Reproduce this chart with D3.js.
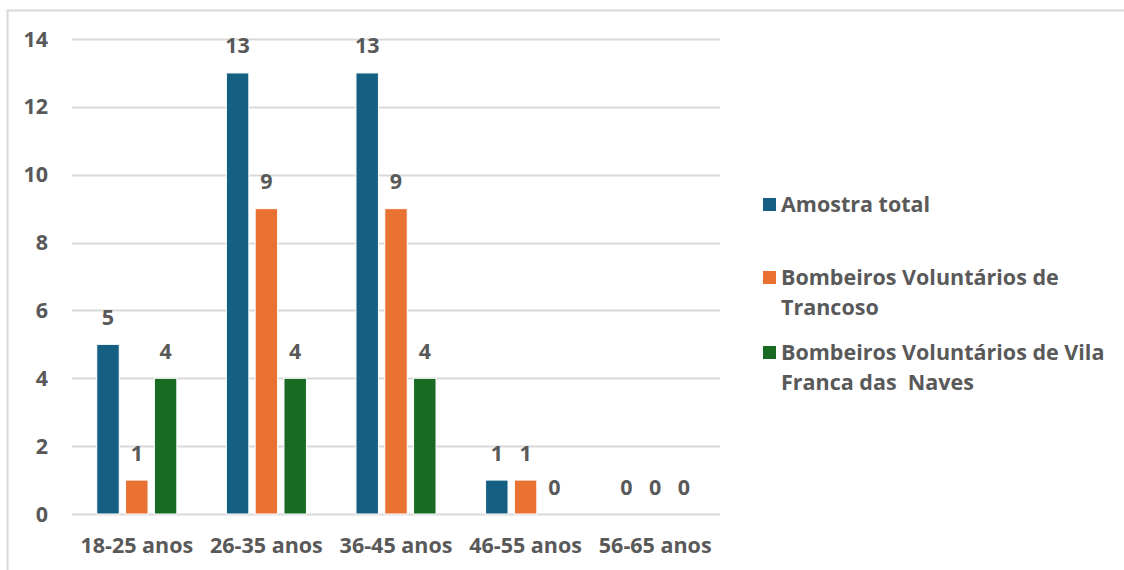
<!DOCTYPE html>
<html>
<head>
<meta charset="utf-8">
<script src="https://cdn.jsdelivr.net/npm/d3@7"></script>
<style>
  html, body { margin: 0; padding: 0; background: #fff; }
  svg { display: block; }
  text { font-family: "Open Sans", "Liberation Sans", Arial, sans-serif; font-weight: 700; fill: #595959; }
</style>
</head>
<body>
<svg id="chart" width="1124" height="570"></svg>
<script>
// Age groups and counts per sample
const categories = ["18-25 anos", "26-35 anos", "36-45 anos", "46-55 anos", "56-65 anos"];
const seriesNames = ["Amostra total", "Bombeiros Voluntários de Trancoso", "Bombeiros Voluntários de Vila Franca das  Naves"];
const legendLines = [["Amostra total"], ["Bombeiros Voluntários de", "Trancoso"], ["Bombeiros Voluntários de Vila", "Franca das  Naves"]];
const amostraTotal = [5, 13, 13, 1, 0];
const trancoso = [1, 9, 9, 1, 0];
const vilaFranca = [4, 4, 4, 0, 0];
const yTicks = [0, 2, 4, 6, 8, 10, 12, 14];
const colors = ["#156082", "#E97132", "#196B24"];

const series = [amostraTotal, trancoso, vilaFranca];
const svg = d3.select("#chart");
const fontSize = 21.5;

// outer chart frame
svg.append("rect")
  .attr("x", 7.5).attr("y", 10.5).attr("width", 1140).attr("height", 600)
  .attr("fill", "none").attr("stroke", "#d9d9d9").attr("stroke-width", 2);

const plot = { left: 72, right: 720, top: 39, bottom: 514 };

const x = d3.scaleBand().domain(categories).range([plot.left, plot.right]).paddingInner(0).paddingOuter(0);
const xInner = d3.scaleBand().domain(d3.range(series.length)).range([0, x.bandwidth()]).paddingInner(0.22).paddingOuter(0.86);
const y = d3.scaleLinear().domain([0, 14]).range([plot.bottom, plot.top]);

// gridlines
svg.append("g").selectAll("line").data(yTicks).join("line")
  .attr("x1", plot.left).attr("x2", plot.right)
  .attr("y1", d => Math.round(y(d)) + 0.5).attr("y2", d => Math.round(y(d)) + 0.5)
  .attr("stroke", "#d9d9d9").attr("stroke-width", 2);

// y tick labels
svg.append("g").selectAll("text").data(yTicks).join("text")
  .attr("x", 48).attr("y", d => y(d))
  .attr("dy", "0.35em").attr("text-anchor", "end")
  .attr("font-size", fontSize).text(d => d);

// x category labels
svg.append("g").selectAll("text").data(categories).join("text")
  .attr("x", d => x(d) + x.bandwidth() / 2).attr("y", 545)
  .attr("dy", "0.35em").attr("text-anchor", "middle")
  .attr("font-size", fontSize).text(d => d);

// bars and value labels
const flat = [];
series.forEach((vals, s) => vals.forEach((v, i) => flat.push({ s, cat: categories[i], v })));

svg.append("g").selectAll("rect").data(flat).join("rect")
  .attr("x", d => x(d.cat) + xInner(d.s))
  .attr("width", xInner.bandwidth())
  .attr("y", d => y(d.v))
  .attr("height", d => y(0) - y(d.v))
  .attr("fill", d => colors[d.s])
  .attr("stroke", "#fff").attr("stroke-width", d => d.v > 0 ? 1 : 0);

svg.append("g").selectAll("text").data(flat).join("text")
  .attr("x", d => x(d.cat) + xInner(d.s) + xInner.bandwidth() / 2)
  .attr("y", d => y(d.v) - 27)
  .attr("dy", "0.35em").attr("text-anchor", "middle")
  .attr("font-size", fontSize).text(d => d.v);

// legend
const legendY = [204, 277, 352];
const legend = svg.append("g");
legendLines.forEach((lines, i) => {
  legend.append("rect")
    .attr("x", 763).attr("y", legendY[i] - 6).attr("width", 13).attr("height", 13)
    .attr("fill", colors[i]);
  lines.forEach((ln, j) => {
    legend.append("text")
      .attr("x", 781).attr("y", legendY[i] + j * 30)
      .attr("dy", "0.35em").attr("font-size", fontSize)
      .style("white-space", "pre")
      .text(ln);
  });
});
</script>
</body>
</html>
